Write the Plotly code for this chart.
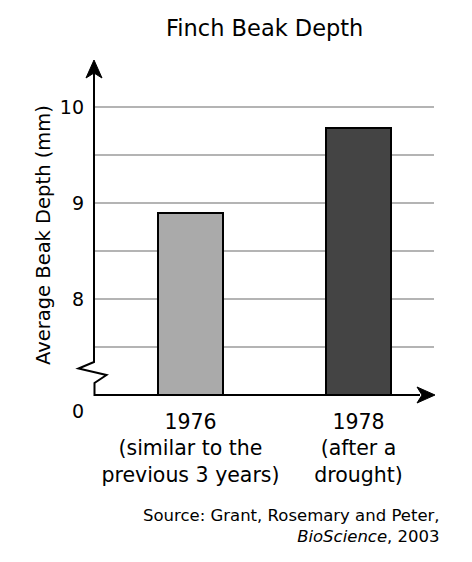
import plotly.graph_objects as go

categories = ["1976", "1978"]
category_labels = ["1976<br>(similar to the<br>previous 3 years)", "1978<br>(after a<br>drought)"]
beak_depth = [8.9, 9.78]
bar_colors = ["#aaaaaa", "#444444"]
grid_vals = [7.5, 8.0, 8.5, 9.0, 9.5, 10.0, 10.5]
grid_text = ["", "8", "", "9", "", "10", ""]

W, H = 472, 562
L, R, T, B = 94, 38, 59, 167
pw, ph = W - L - R, H - T - B

def px(x):
    return (x - L) / pw

def py(y):
    return (H - B - y) / ph

FONT = "DejaVu Sans"

fig = go.Figure(go.Bar(
    x=categories, y=beak_depth, width=0.387,
    marker=dict(color=bar_colors, line=dict(color="black", width=2)),
))

shapes = []
axis_pts = [(94, 72), (94, 362), (78.5, 368.5), (106.5, 375), (94.5, 383), (94.5, 395), (420, 395)]
path = "M " + " L ".join(f"{px(a):.5f},{py(b):.5f}" for a, b in axis_pts)
shapes.append(dict(type="path", xref="paper", yref="paper", path=path,
                   line=dict(color="black", width=2)))
up = [(94, 60), (102, 78), (94, 73), (86, 78)]
shapes.append(dict(type="path", xref="paper", yref="paper",
                   path="M " + " L ".join(f"{px(a):.5f},{py(b):.5f}" for a, b in up) + " Z",
                   fillcolor="black", line=dict(color="black", width=1)))
rt = [(435, 395), (417, 387), (422, 395), (417, 403)]
shapes.append(dict(type="path", xref="paper", yref="paper",
                   path="M " + " L ".join(f"{px(a):.5f},{py(b):.5f}" for a, b in rt) + " Z",
                   fillcolor="black", line=dict(color="black", width=1)))

annotations = [
    dict(text="Finch Beak Depth", x=px(264), y=py(28), xref="paper", yref="paper",
         showarrow=False, font=dict(family=FONT, size=22.5, color="black"),
         xanchor="center", yanchor="middle"),
    dict(text="Average Beak Depth (mm)", x=px(43), y=py(235), xref="paper", yref="paper",
         showarrow=False, textangle=-90, font=dict(family=FONT, size=19.5, color="black"),
         xanchor="center", yanchor="middle"),
    dict(text="0", x=px(78), y=py(411), xref="paper", yref="paper",
         showarrow=False, font=dict(family=FONT, size=19, color="black"),
         xanchor="center", yanchor="middle"),
    dict(text="Source: Grant, Rosemary and Peter,<br><i>BioScience</i>, 2003",
         x=px(442), y=py(526), xref="paper", yref="paper", align="right",
         showarrow=False, font=dict(family=FONT, size=16.5, color="black"),
         xanchor="right", yanchor="middle"),
]

fig.update_layout(
    width=W, height=H,
    margin=dict(l=L, r=R, t=T, b=B),
    paper_bgcolor="white", plot_bgcolor="white",
    showlegend=False,
    shapes=shapes, annotations=annotations,
    font=dict(family=FONT, color="black"),
    bargap=0,
)
fig.update_xaxes(
    range=[-0.574, 1.449], tickmode="array", tickvals=categories, ticktext=category_labels,
    showline=False, showgrid=False, zeroline=False, ticks="",
    tickfont=dict(family=FONT, size=20.5, color="black"), ticklabelstandoff=12,
)
fig.update_yaxes(
    range=[7.0, 10.5], tickmode="array", tickvals=grid_vals, ticktext=grid_text,
    showgrid=True, gridcolor="#b4b4b4", gridwidth=2, zeroline=False, showline=False,
    ticks="", tickfont=dict(family=FONT, size=19, color="black"), ticklabelstandoff=9,
)

fig.write_html("out.html")
